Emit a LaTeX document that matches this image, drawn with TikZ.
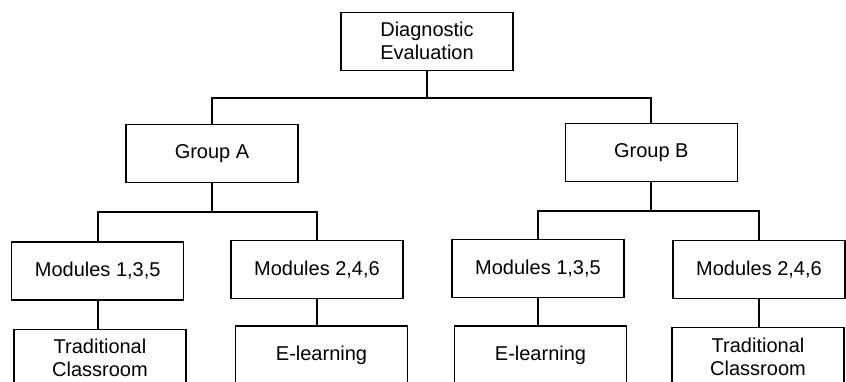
\documentclass[tikz,border=0pt]{standalone}
\usepackage{fontspec}
\setmainfont{Liberation Sans}
\begin{document}
\begin{tikzpicture}[x=1pt,y=-1pt,
  box/.style={draw=black,line width=1.2pt,minimum width=172pt,minimum height=58pt,
    inner sep=0pt,align=center,font=\fontsize{20}{23}\selectfont},
  conn/.style={draw=black,line width=2pt}]
\useasboundingbox (0,0) rectangle (846,381);
\clip (0,0) rectangle (846,381);
\node[box] (de) at (427,41.3) {Diagnostic\\Evaluation};
\node[box] (ga) at (212,153.3) {Group A};
\node[box] (gb) at (651.3,152.5) {Group B};
\node[box] (ma1) at (97.7,271) {Modules 1,3,5};
\node[box] (ma2) at (317,269.3) {Modules 2,4,6};
\node[box] (ta) at (100,358.3) {Traditional\\Classroom};
\node[box] (ea) at (321.5,355) {E-learning};
\node[box] (mb1) at (538,268.5) {Modules 1,3,5};
\node[box] (mb2) at (759,269.3) {Modules 2,4,6};
\node[box] (eb) at (540.5,355) {E-learning};
\node[box] (tb) at (758,356.7) {Traditional\\Classroom};
\coordinate (j1) at (427,97.5);
\coordinate (j2) at (212,212.3);
\coordinate (j3) at (651.3,211);
\draw[conn] (de.south) -- (j1);
\draw[conn] (ga.north) |- (j1) -| (gb.north);
\draw[conn] (ga.south) -- (j2);
\draw[conn] (ma1.north) |- (j2) -| (ma2.north);
\draw[conn] (gb.south) -- (j3);
\draw[conn] (mb1.north) |- (j3) -| (mb2.north);
\draw[conn] (ma1.south) -- (ma1.south |- ta.north);
\draw[conn] (ma2.south) -- (ma2.south |- ea.north);
\draw[conn] (mb1.south) -- (mb1.south |- eb.north);
\draw[conn] (mb2.south) -- (mb2.south |- tb.north);
\end{tikzpicture}
\end{document}
